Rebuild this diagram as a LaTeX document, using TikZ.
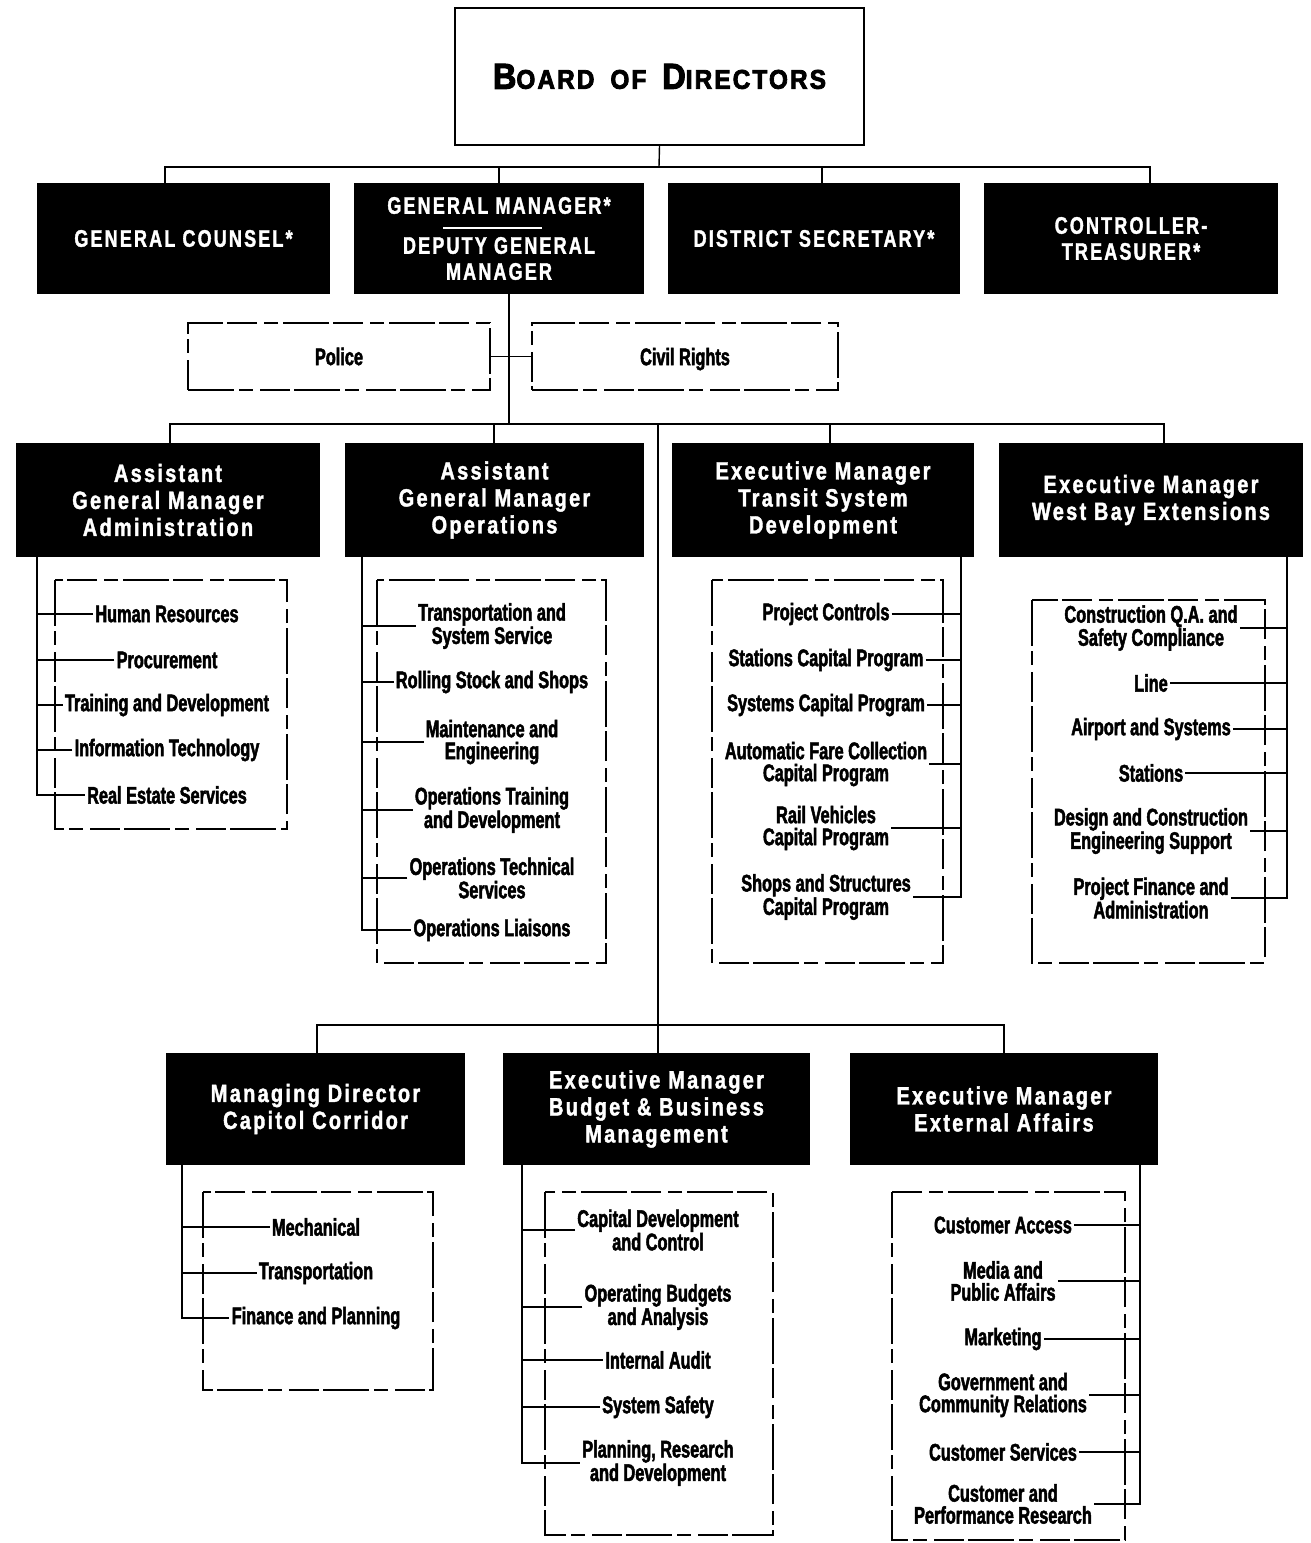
\documentclass[tikz,border=0pt]{standalone}
\usepackage{fontspec}
\newfontfamily\itemf{Liberation Sans}[FakeStretch=0.68,FakeBold=2]
\newfontfamily\headf{Liberation Sans}[FakeStretch=0.8,LetterSpace=9,FakeBold=1.5]
\newfontfamily\capf{Liberation Sans}[FakeStretch=0.75,LetterSpace=9,FakeBold=1.5]
\newfontfamily\boardf{Liberation Sans}[FakeStretch=0.9,LetterSpace=8,FakeBold=3]
\begin{document}
\begin{tikzpicture}[x=1pt,y=-1pt,
  blk/.style={fill=black,text=white,inner sep=0pt,align=center,font=\headf\bfseries\fontsize{25}{27}\selectfont},
  capbox/.style={blk,font=\capf\bfseries\fontsize{24}{26}\selectfont},
  itm/.style={inner sep=2pt,align=center,font=\itemf\bfseries\fontsize{24}{22}\selectfont},
  conn/.style={line width=1.4pt},
  frm/.style={line width=1.4pt,dash pattern=on 46pt off 5pt on 14pt off 7pt on 30pt off 4pt}]
\useasboundingbox (0,0) rectangle (1311,1543);

% Board
\node[draw,line width=1.6pt,minimum width=409pt,minimum height=137pt,inner sep=0pt,
  font=\boardf\bfseries\fontsize{27}{30}\selectfont] (board) at (659.5,76.5)
  {{\fontsize{36}{36}\selectfont B}OARD\hspace{16pt}OF\hspace{16pt}{\fontsize{36}{36}\selectfont D}IRECTORS};

% Top row
\node[capbox,minimum width=293pt,minimum height=111pt] (gc) at (183.5,238.5) {GENERAL COUNSEL*};
\node[capbox,minimum width=290pt,minimum height=111pt] (gm) at (499,238.5) {GENERAL MANAGER*\\[14pt]DEPUTY GENERAL\\MANAGER};
\node[capbox,minimum width=292pt,minimum height=111pt] (ds) at (814,238.5) {DISTRICT SECRETARY*};
\node[capbox,minimum width=294pt,minimum height=111pt] (ct) at (1131,238.5) {CONTROLLER-\\TREASURER*};
\draw[white,line width=2pt] (443,228) -- (542,228);

% Police / Civil Rights
\node[itm,frm,draw,minimum width=302pt,minimum height=67pt] (police) at (339,356.5) {Police};
\node[itm,frm,draw,minimum width=306pt,minimum height=67pt,text depth=0pt] (civil) at (685,356.5) {Civil Rights};

% Second row
\node[blk,minimum width=304pt,minimum height=114pt] (adm) at (168,500) {Assistant\\General Manager\\Administration};
\node[blk,minimum width=299pt,minimum height=114pt] (ops) at (494.5,500) {Assistant\\General Manager\\Operations};
\node[blk,minimum width=302pt,minimum height=114pt] (tsd) at (823,500) {Executive Manager\\Transit System\\Development};
\node[blk,minimum width=304pt,minimum height=114pt] (wb) at (1151,500) {Executive Manager\\West Bay Extensions};

% Third row
\node[blk,minimum width=299pt,minimum height=112pt] (cc) at (315.5,1109) {Managing Director\\Capitol Corridor};
\node[blk,minimum width=307pt,minimum height=112pt] (bud) at (656.5,1109) {Executive Manager\\Budget \& Business\\Management};
\node[blk,minimum width=308pt,minimum height=112pt] (ea) at (1004,1109) {Executive Manager\\External Affairs};

% Frames
\draw[frm] (55,580) rectangle (287,829);
\draw[frm] (377,580) rectangle (606,963);
\draw[frm] (712,580) rectangle (943,963);
\draw[frm] (1032,600) rectangle (1265,963);
\draw[frm] (203,1192) rectangle (433,1390);
\draw[frm] (545,1192) rectangle (773,1535);
\draw[frm] (892,1192) rectangle (1125,1540);

% Items: Administration
\node[itm] (hr) at (167,614) {Human Resources};
\node[itm] (proc) at (167,660) {Procurement};
\node[itm] (td) at (167,705) {Training and Development};
\node[itm] (it) at (167,750) {Information Technology};
\node[itm] (re) at (167,795) {Real Estate Services};

% Items: Operations
\node[itm] (tss) at (492,626) {Transportation and\\System Service};
\node[itm] (rss) at (492,682) {Rolling Stock and Shops};
\node[itm] (me) at (492,742) {Maintenance and\\Engineering};
\node[itm] (otd) at (492,810) {Operations Training\\and Development};
\node[itm] (ots) at (492,878) {Operations Technical\\Services};
\node[itm] (ol) at (492,930) {Operations Liaisons};

% Items: Transit System Development
\node[itm] (pc) at (826,614) {Project Controls};
\node[itm] (scp) at (826,660) {Stations Capital Program};
\node[itm] (sycp) at (826,705) {Systems Capital Program};
\node[itm] (afc) at (826,764) {Automatic Fare Collection\\Capital Program};
\node[itm] (rv) at (826,828) {Rail Vehicles\\Capital Program};
\node[itm] (ssc) at (826,897) {Shops and Structures\\Capital Program};

% Items: West Bay
\node[itm] (cqa) at (1151,628) {Construction Q.A. and\\Safety Compliance};
\node[itm] (ln) at (1151,683) {Line};
\node[itm] (air) at (1151,729) {Airport and Systems};
\node[itm] (sta) at (1151,773) {Stations};
\node[itm] (dcs) at (1151,831) {Design and Construction\\Engineering Support};
\node[itm] (pfa) at (1151,898) {Project Finance and\\Administration};

% Items: Capitol Corridor
\node[itm] (mech) at (316,1227) {Mechanical};
\node[itm] (trans) at (316,1273) {Transportation};
\node[itm] (fp) at (316,1318) {Finance and Planning};

% Items: Budget
\node[itm] (cdc) at (658,1230) {Capital Development\\and Control};
\node[itm] (oba) at (658,1307) {Operating Budgets\\and Analysis};
\node[itm] (ia) at (658,1360) {Internal Audit};
\node[itm] (ss) at (658,1407) {System Safety};
\node[itm] (prd) at (658,1463) {Planning, Research\\and Development};

% Items: External Affairs
\node[itm] (ca) at (1003,1225) {Customer Access};
\node[itm] (mpa) at (1003,1281) {Media and\\Public Affairs};
\node[itm] (mkt) at (1003,1339) {Marketing};
\node[itm] (gcr) at (1003,1395) {Government and\\Community Relations};
\node[itm] (cs) at (1003,1452) {Customer Services};
\node[itm] (cpr) at (1003,1504) {Customer and\\Performance Research};

% Connectors: board level
\coordinate (bus1) at (659,167);
\draw[conn] (board.south) -- (bus1);
\draw[conn] (gc.north -| 165,0) |- (bus1) -| (ct.north -| 1150,0);
\draw[conn] (gm.north) -- (gm.north |- bus1);
\draw[conn] (ds.north -| 822,0) -- (bus1 -| 822,0);

% GM to second row
\coordinate (bus2) at (509,424);
\draw[conn] (gm.south -| 509,0) -- (bus2);
\draw[conn] (police.east) -- (civil.west);
\draw[conn] (adm.north -| 170,0) |- (bus2) -| (wb.north -| 1164,0);
\draw[conn] (ops.north -| 494,0) -- (bus2 -| 494,0);
\draw[conn] (tsd.north -| 830,0) -- (bus2 -| 830,0);

% Main trunk to third row
\coordinate (bus3) at (658,1025);
\draw[conn] (bus2 -| 658,0) -- (bus3) -- (bud.north -| 658,0);
\draw[conn] (cc.north -| 317,0) |- (bus3) -| (ea.north -| 1004,0);

% Sub-item connectors
\draw[conn] (adm.south -| 37,0) |- (re.west);
\foreach \n in {hr,proc,td,it} \draw[conn] (\n.west) -- (\n.west -| 37,0);

\draw[conn] (ops.south -| 362,0) |- (ol.west);
\foreach \n in {tss,rss,me,otd,ots} \draw[conn] (\n.west) -- (\n.west -| 362,0);

\draw[conn] (tsd.south -| 961,0) |- (ssc.east);
\foreach \n in {pc,scp,sycp,afc,rv} \draw[conn] (\n.east) -- (\n.east -| 961,0);

\draw[conn] (wb.south -| 1287,0) |- (pfa.east);
\foreach \n in {cqa,ln,air,sta,dcs} \draw[conn] (\n.east) -- (\n.east -| 1287,0);

\draw[conn] (cc.south -| 182,0) |- (fp.west);
\foreach \n in {mech,trans} \draw[conn] (\n.west) -- (\n.west -| 182,0);

\draw[conn] (bud.south -| 522,0) |- (prd.west);
\foreach \n in {cdc,oba,ia,ss} \draw[conn] (\n.west) -- (\n.west -| 522,0);

\draw[conn] (ea.south -| 1140,0) |- (cpr.east);
\foreach \n in {ca,mpa,mkt,gcr,cs} \draw[conn] (\n.east) -- (\n.east -| 1140,0);
\end{tikzpicture}
\end{document}
